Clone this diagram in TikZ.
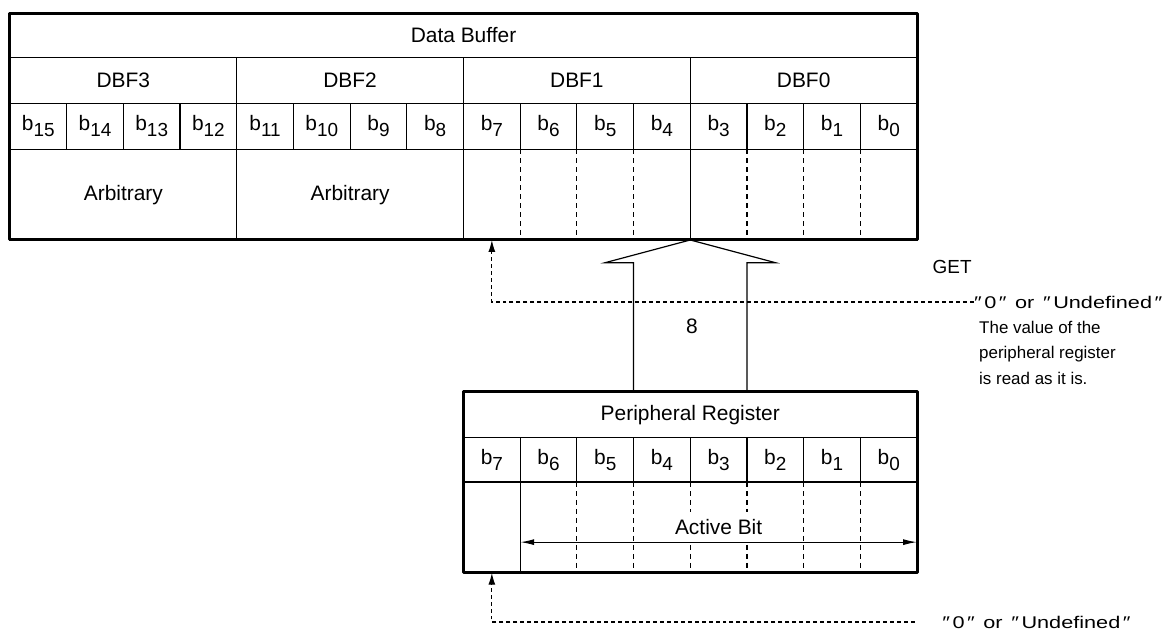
\documentclass[tikz,border=0pt]{standalone}
\usepackage{fontspec}
\setsansfont{Liberation Sans}
\usepackage{tikz}
\usetikzlibrary{arrows.meta, positioning}
\newcommand{\bitsub}[1]{b\raisebox{-3pt}{\fontsize{9.5}{10}\selectfont #1}}
\newcommand{\dq}{\kern1pt″\kern1pt}
\newcommand{\undefq}{\scalebox{1.28}[1]{″\kern1pt0\dq{} or \dq Undefined\dq}}
\tikzset{
    regcell/.style={rectangle, draw=black, line width=0.6pt, inner sep=0pt, outer sep=0pt, minimum width=1cm, minimum height=0.81cm, text centered, font=\fontsize{10.5}{12}\sffamily\selectfont},
    headcell/.style={regcell, minimum width=16cm, minimum height=0.78cm},
    bytecell/.style={regcell, minimum width=4cm},
    lowcell/.style={regcell, minimum width=4cm, minimum height=1.6cm},
    frame/.style={line width=1.5pt, line join=round},
    regline/.style={line width=0.6pt},
    sepline/.style={line width=0.6pt, dash pattern=on 2.5pt off 2pt},
    hollow/.style={line width=0.6pt, line join=miter},
    dasharrow/.style={line width=0.6pt, dash pattern=on 2pt off 1.5pt, -{Latex[length=6pt,width=3.5pt]}},
    bitarrow/.style={line width=0.6pt, {Latex[length=7pt,width=3pt]}-{Latex[length=7pt,width=3pt]}},
    note/.style={anchor=west, inner sep=0pt, align=left, font=\fontsize{8.5}{12.8}\sffamily\selectfont}
}

\begin{document}
\begin{tikzpicture}
    \useasboundingbox (-0.176,4.233) rectangle (20.427,-6.915);
    \node (dbhead) [headcell, anchor=north west] at (0,4) {Data Buffer};
    \node (dbf3) [bytecell, below right=0pt and 0pt of dbhead.south west] {DBF3};
    \node (dbf2) [bytecell, right=0pt of dbf3] {DBF2};
    \node (dbf1) [bytecell, right=0pt of dbf2] {DBF1};
    \node (dbf0) [bytecell, right=0pt of dbf1] {DBF0};

    \node (d15) [regcell, below right=0pt and 0pt of dbf3.south west] {\bitsub{15}};
    \node (d14) [regcell, right=0pt of d15] {\bitsub{14}};
    \node (d13) [regcell, right=0pt of d14] {\bitsub{13}};
    \node (d12) [regcell, right=0pt of d13] {\bitsub{12}};
    \node (d11) [regcell, right=0pt of d12] {\bitsub{11}};
    \node (d10) [regcell, right=0pt of d11] {\bitsub{10}};
    \node (d9) [regcell, right=0pt of d10] {\bitsub{9}};
    \node (d8) [regcell, right=0pt of d9] {\bitsub{8}};
    \node (d7) [regcell, right=0pt of d8] {\bitsub{7}};
    \node (d6) [regcell, right=0pt of d7] {\bitsub{6}};
    \node (d5) [regcell, right=0pt of d6] {\bitsub{5}};
    \node (d4) [regcell, right=0pt of d5] {\bitsub{4}};
    \node (d3) [regcell, right=0pt of d4] {\bitsub{3}};
    \node (d2) [regcell, right=0pt of d3] {\bitsub{2}};
    \node (d1) [regcell, right=0pt of d2] {\bitsub{1}};
    \node (d0) [regcell, right=0pt of d1] {\bitsub{0}};

    \node (arb3) [lowcell, below right=0pt and 0pt of d15.south west] {Arbitrary};
    \node (arb2) [lowcell, right=0pt of arb3] {Arbitrary};
    \node (low1) [lowcell, right=0pt of arb2] {};
    \node (low0) [lowcell, right=0pt of low1] {};
    \draw [sepline] (d7.south east) -- (d7.south east |- low1.south) (d6.south east) -- (d6.south east |- low1.south)
        (d5.south east) -- (d5.south east |- low1.south) (d3.south east) -- (d3.south east |- low0.south)
        (d2.south east) -- (d2.south east |- low0.south) (d1.south east) -- (d1.south east |- low0.south);
    \draw [frame] (dbhead.north west) rectangle (low0.south east);

    \node (prhead) [regcell, minimum width=8cm, below right=2.68cm and 0pt of low1.south west] {Peripheral Register};
    \node (p7) [regcell, minimum height=0.78cm, below right=0pt and 0pt of prhead.south west] {\bitsub{7}};
    \node (p6) [regcell, minimum height=0.78cm, right=0pt of p7] {\bitsub{6}};
    \node (p5) [regcell, minimum height=0.78cm, right=0pt of p6] {\bitsub{5}};
    \node (p4) [regcell, minimum height=0.78cm, right=0pt of p5] {\bitsub{4}};
    \node (p3) [regcell, minimum height=0.78cm, right=0pt of p4] {\bitsub{3}};
    \node (p2) [regcell, minimum height=0.78cm, right=0pt of p3] {\bitsub{2}};
    \node (p1) [regcell, minimum height=0.78cm, right=0pt of p2] {\bitsub{1}};
    \node (p0) [regcell, minimum height=0.78cm, right=0pt of p1] {\bitsub{0}};
    \node (prlow) [regcell, minimum width=8cm, minimum height=1.6cm, below right=0pt and 0pt of p7.south west] {};
    \draw [regline] (p7.south east) -- (p7.south east |- prlow.south);
    \draw [sepline] (p6.south east) -- (p6.south east |- prlow.south) (p5.south east) -- (p5.south east |- prlow.south)
        (p4.south east) -- (p4.south east |- prlow.south) (p3.south east) -- (p3.south east |- prlow.south)
        (p2.south east) -- (p2.south east |- prlow.south) (p1.south east) -- (p1.south east |- prlow.south);
    \coordinate (actl) at ([yshift=-1.06cm]p6.south west);
    \coordinate (actr) at ([yshift=-1.06cm]p0.south east);
    \draw [bitarrow] (actl) -- node (activebit) [above, inner sep=3.5pt, fill=white, font=\fontsize{10.5}{12}\sffamily\selectfont] {Active Bit} (actr);
    \draw [frame] (prhead.north west) rectangle (prlow.south east);

    \draw [hollow] ([xshift=-1cm]prhead.north) -- ([xshift=-1cm, yshift=-0.4cm]low0.south west) -- ++(-0.5,0)
        -- (low0.south west) -- ++(1.5,-0.4) -- ++(-0.5,0) -- ([xshift=1cm]prhead.north);
    \node (buswidth) [note, anchor=center, font=\fontsize{10.5}{12}\sffamily\selectfont] at (12.03,-1.52) {8};
    \node (get) [note, anchor=center, font=\fontsize{9.5}{12}\sffamily\selectfont] at (16.62,-0.48) {GET};

    \node (undef1) [note] at (17.0,-1.094) {\undefq};
    \node (readnote) [note] at (17.09,-1.99) {The value of the\\peripheral register\\is read as it is.};
    \draw [dasharrow] (undef1.west) -| (d7 |- low1.south);

    \node (undef2) [note] at (16.44,-6.738) {\undefq};
    \coordinate (undef2end) at (15.96,-6.738);
    \draw [dasharrow] (undef2end) -| (p7 |- prlow.south);
\end{tikzpicture}
\end{document}
